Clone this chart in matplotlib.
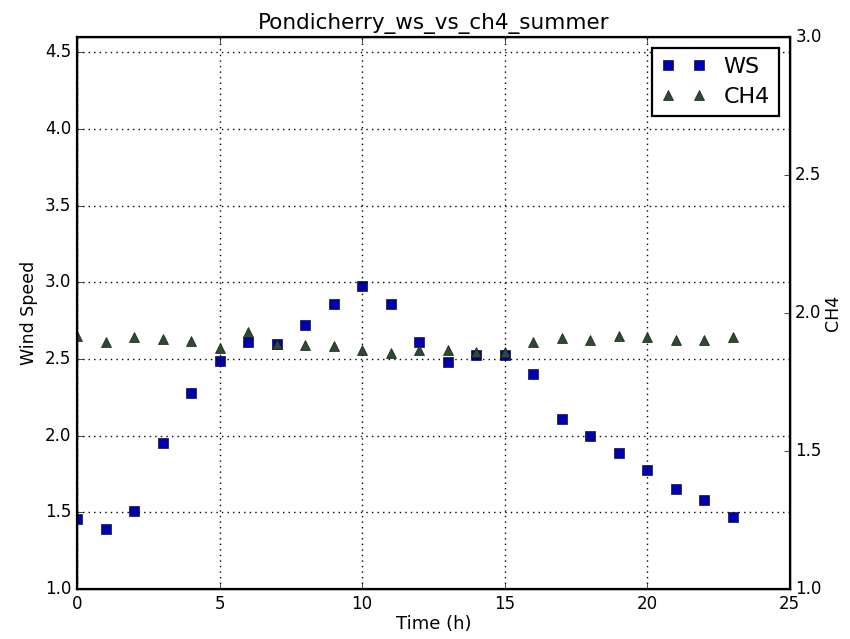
import matplotlib
matplotlib.use("Agg")
import matplotlib.pyplot as plt

# hourly values
hours = list(range(24))
ws = [1.46, 1.39, 1.51, 1.95, 2.28, 2.49, 2.61, 2.60, 2.72, 2.86, 2.98, 2.86,
      2.61, 2.48, 2.53, 2.53, 2.40, 2.11, 2.00, 1.89, 1.78, 1.65, 1.58, 1.47]
ch4 = [1.917, 1.896, 1.912, 1.906, 1.900, 1.872, 1.932, 1.887, 1.884, 1.880,
       1.866, 1.854, 1.868, 1.867, 1.858, 1.858, 1.894, 1.911, 1.902, 1.917,
       1.912, 1.902, 1.902, 1.914]

WS_COLOR = '#0000b0'
CH4_COLOR = '#2e4a34'

plt.style.use('classic')
plt.rcParams['font.family'] = ['DejaVu Sans']

fig = plt.figure(figsize=(8.5, 6.39), dpi=100, facecolor='white')
ax1 = fig.add_axes([0.0906, 0.078, 0.8384, 0.864])
ax1.set_facecolor('white')

l1, = ax1.plot(hours, ws, 's', color=WS_COLOR, markeredgecolor='#101030',
               markersize=6.5, label='WS')
ax1.set_xlim(0, 25)
ax1.set_ylim(1.0, 4.6)
ax1.set_yticks([1.0, 1.5, 2.0, 2.5, 3.0, 3.5, 4.0, 4.5])
ax1.set_xlabel('Time (h)', fontsize=13, labelpad=2)
ax1.set_ylabel('Wind Speed', fontsize=12.5)
ax1.grid(True, linestyle=':', color='black', linewidth=1)
ax1.tick_params(labelsize=12)
for sp in ax1.spines.values():
    sp.set_linewidth(1.6)

ax2 = ax1.twinx()
l2, = ax2.plot(hours, ch4, '^', color=CH4_COLOR, markeredgecolor='#102010',
               markersize=7, label='CH4')
ax2.set_ylim(1.0, 3.0)
ax2.set_yticks([1.0, 1.5, 2.0, 2.5, 3.0])
ax2.set_ylabel('CH4', fontsize=12.5, labelpad=2)
ax2.tick_params(labelsize=12)

ax1.set_title('Pondicherry_ws_vs_ch4_summer', fontsize=15.5, pad=6)

leg = ax2.legend([l1, l2], ['WS', 'CH4'], loc='upper right', numpoints=2,
                 fontsize=16, fancybox=False, borderaxespad=0.5,
                 handlelength=2.0, borderpad=0.4, labelspacing=0.45)
leg.get_frame().set_linewidth(1.6)
leg.get_frame().set_edgecolor('black')

fig.savefig('out.png', dpi=100, facecolor='white')
